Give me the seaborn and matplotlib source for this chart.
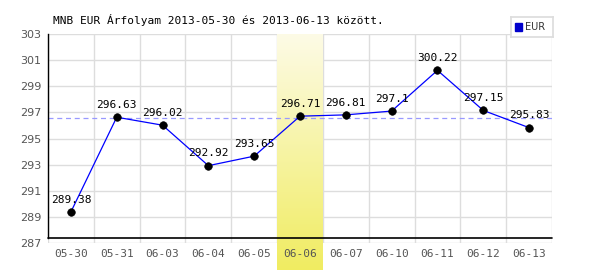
import numpy as np
import pandas as pd
import matplotlib
matplotlib.use("Agg")
import matplotlib.pyplot as plt
import seaborn as sns

dates = ["05-30", "05-31", "06-03", "06-04", "06-05", "06-06",
         "06-07", "06-10", "06-11", "06-12", "06-13"]
values = [289.38, 296.63, 296.02, 292.92, 293.65, 296.71,
          296.81, 297.1, 300.22, 297.15, 295.83]
value_labels = ["289.38", "296.63", "296.02", "292.92", "293.65", "296.71",
                "296.81", "297.1", "300.22", "297.15", "295.83"]
ref_level = 296.6
highlight = "06-06"
yticks = [287, 289, 291, 293, 295, 297, 299, 301, 303]

sns.set_theme(style="white")
plt.rcParams["font.family"] = ["DejaVu Sans"]

df = pd.DataFrame({"pos": np.arange(len(dates)), "date": dates, "value": values})

fig = plt.figure(figsize=(6, 2.7), dpi=100)
ax = fig.add_axes([0.08, 0.10, 0.84, 0.774])
ax.set_xlim(-0.5, len(dates) - 0.5)
ax.set_ylim(287, 303)

# grid
for k in range(len(dates) + 1):
    ax.axvline(k - 0.5, color="#dddddd", lw=1, zorder=0)
for t in yticks:
    ax.axhline(t, color="#dddddd", lw=1, zorder=0)

# highlight band gradient
hi = dates.index(highlight)
grad = np.linspace(0, 1, 256).reshape(-1, 1)
cmap = matplotlib.colors.LinearSegmentedColormap.from_list("yl", ["#fdfbe6", "#f0ec60"])
ax.imshow(grad, extent=(hi - 0.5, hi + 0.5, 284.8, 303), origin="upper",
          cmap=cmap, aspect="auto", zorder=0.5, clip_on=False)
ax.set_xlim(-0.5, len(dates) - 0.5)
ax.set_ylim(287, 303)

ax.axhline(ref_level, color="#9999ff", lw=0.9, ls=(0, (4, 3)), zorder=1)

sns.lineplot(data=df, x="pos", y="value", ax=ax, color="#0000ff", lw=0.9, zorder=2)
sns.scatterplot(data=df, x="pos", y="value", ax=ax, color="black", s=30,
                edgecolor="black", zorder=3, legend=False)

for p, v, lab in zip(df["pos"], values, value_labels):
    ax.text(p, v + 0.55, lab, ha="center", va="bottom", fontsize=8,
            family="DejaVu Sans Mono", color="black", zorder=4)

for s in ["top", "right"]:
    ax.spines[s].set_visible(False)
ax.spines["bottom"].set_visible(False)
ax.spines["left"].set_color("black")
ax.spines["left"].set_linewidth(1)
ax.spines["left"].set_bounds(287.4, 303)
ax.plot([-0.5, len(dates) - 0.5], [287.4, 287.4], color="black", lw=1.2,
        zorder=5, clip_on=False)

ax.set_xticks(df["pos"])
ax.set_xticklabels(dates, family="DejaVu Sans Mono", fontsize=8, color="#555555")
ax.set_yticks(yticks)
ax.set_yticklabels([str(t) for t in yticks], fontsize=8, color="#555555")
ax.tick_params(axis="both", length=0)
ax.tick_params(axis="x", pad=4)
ax.tick_params(axis="y", pad=5)
ax.set_xlabel("")
ax.set_ylabel("")

fig.text(0.088, 0.925, "MNB EUR Árfolyam 2013-05-30 és 2013-06-13 között.",
         family="DejaVu Sans Mono", fontsize=8, color="black", va="center")

# legend box
lax = fig.add_axes([0.852, 0.863, 0.07, 0.074])
lax.set_xticks([]); lax.set_yticks([])
for s in lax.spines.values():
    s.set_color("#dddddd")
lax.set_xlim(0, 1); lax.set_ylim(0, 1)
lax.add_patch(plt.Rectangle((0.1, 0.32), 0.16, 0.38, color="#0000cc"))
lax.text(0.33, 0.5, "EUR", fontsize=7, va="center", ha="left", color="#333333")

fig.savefig("out.png", dpi=100)
